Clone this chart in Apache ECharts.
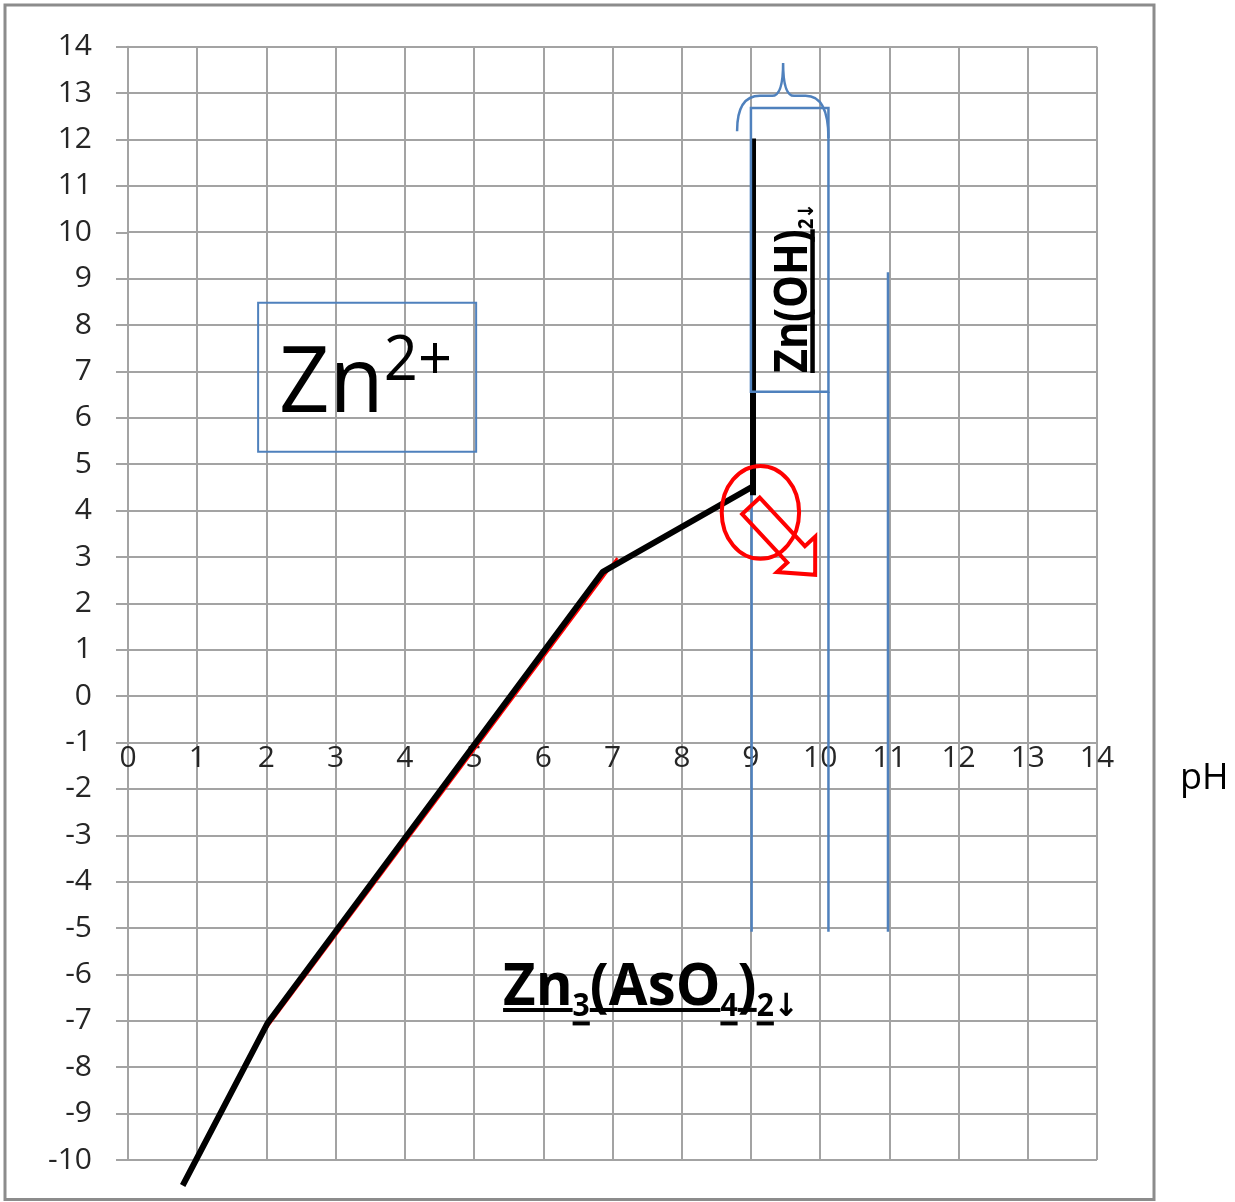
<!DOCTYPE html>
<html>
<head>
<meta charset="utf-8">
<script src="https://cdn.jsdelivr.net/npm/echarts@6/dist/echarts.min.js"></script>
<style>
  html, body { margin: 0; padding: 0; background: #ffffff; }
  #chart { width: 1235px; height: 1202px; }
</style>
</head>
<body>
<div id="chart"></div>
<script>
// ---- Axis ticks -----------------------------------------------------------
const pHTicks = [0, 1, 2, 3, 4, 5, 6, 7, 8, 9, 10, 11, 12, 13, 14];
const yTicks = [-10, -9, -8, -7, -6, -5, -4, -3, -2, -1, 0, 1, 2, 3, 4, 5, 6, 7, 8, 9, 10, 11, 12, 13, 14];
const xAxisLevel = -1;            // the pH axis crosses the vertical scale here
const xAxisTitle = 'pH';

// ---- Zn2+ / Zn3(AsO4)2 precipitation boundary -------------------------------
const boundaryPH = [0.79, 2.02, 6.86, 9.03];
const boundaryY  = [-10.55, -7.04, 2.68, 4.52];

// ---- vertical boundary where Zn(OH)2 starts -------------------------------
const riserPH = [9.03, 9.03];
const riserY  = [4.33, 12.02];

// ---- thin red construction line -------------------------------------------
const constructionPH = [1.91, 7.07];
const constructionY  = [-7.34, 2.98];

// ---- blue vertical guides -------------------------------------------------
const guidePH      = [9.01, 10.12, 10.98];
const guideTopY    = [6.56, 6.56, 9.14];
const guideBottomY = [-5.08, -5.08, -5.08];

// ---- framed regions --------------------------------------------------------
const zn2BoxPH = [1.88, 5.03];
const zn2BoxY  = [5.27, 8.48];
const hydroxideBoxPH = [9.0, 10.12];
const hydroxideBoxY  = [6.56, 12.68];

// ---- curly brace above the Zn(OH)2 frame ----------------------------------
const bracePH    = [8.80, 9.465, 10.12];   // left end, tip, right end
const braceEndY  = [12.18, 12.03];         // left end, right end
const braceBarY  = 12.94;
const bracePeakY = 13.65;

// ---- red marker around the junction ----------------------------------------
const markerCenter = [9.137, 3.961];
const markerRadius = [0.559, 1.002];
const arrowPH = [9.127, 9.780, 9.929, 9.928, 9.377, 9.526, 8.873];
const arrowY  = [4.278, 3.233, 3.438, 2.614, 2.675, 2.879, 3.925];

// ---- species labels (anchor = start of the baseline) -----------------------
const zn2Anchor = [2.182, 6.132];
const arsenateAnchor = [5.419, -6.657];
const hydroxideAnchor = [9.808, 6.964];

const zn2Segments = [
  { t: 'Zn', s: 1, r: 0 },
  { t: '2+', s: 0.675, r: 0.475 }
];
const arsenateSegments = [
  { t: 'Zn',   s: 1,     r: 0,      u: 0.116 },
  { t: '3',    s: 0.535, r: -0.256, u: 0.174 },
  { t: '(AsO', s: 1,     r: 0,      u: 0.116 },
  { t: '4',    s: 0.535, r: -0.256, u: 0.174 },
  { t: ')',    s: 1,     r: 0,      u: 0.116 },
  { t: '2',    s: 0.535, r: -0.256, u: 0.174 },
  { t: '\u2193', s: 0.535, r: -0.256 }
];
const hydroxideSegments = [
  { t: 'Zn(OH)', s: 1,    r: 0,     u: 0.17 },
  { t: '2',      s: 0.45, r: -0.19 },
  { t: '\u2193', s: 0.45, r: -0.19 }
];

// ---------------------------------------------------------------------------
const zip = (xs, ys) => xs.map((x, i) => [x, ys[i]]);
const FONT = '"Open Sans", "DejaVu Sans", sans-serif';
const GRID_COLOR = '#a3a3a3';
const BLUE = '#4f81bd';
const RED = '#ff0000';

const W = 1235, H = 1202;
const GRID = { left: 128, right: 138, top: 46.7, bottom: 42 };
const yMin = yTicks[0], yMax = yTicks[yTicks.length - 1];
const unitY = (H - GRID.top - GRID.bottom) / (yMax - yMin);
const xAxisPixelY = GRID.top + (yMax - xAxisLevel) * unitY;

// text measuring, so that sub/superscripts and underlines line up
const mctx = document.createElement('canvas').getContext('2d');
function metrics(weight, size, text) {
  mctx.font = weight + ' ' + size + 'px ' + FONT;
  mctx.textBaseline = 'alphabetic';
  const w = mctx.measureText(text).width;
  const cap = mctx.measureText('H').actualBoundingBoxAscent;
  mctx.textBaseline = 'middle';
  const capMid = mctx.measureText('H').actualBoundingBoxAscent;
  mctx.textBaseline = 'alphabetic';
  return { w: w, cap: cap, shift: cap - capMid };
}
function buildFormula(segments, capPx, weight, ulWidth) {
  const F = capPx / (metrics(weight, 100, 'H').cap / 100);
  let x = 0;
  const children = [];
  segments.forEach(seg => {
    const size = F * seg.s;
    const m = metrics(weight, size, seg.t);
    const base = -seg.r * capPx;
    children.push({
      type: 'text', x: x, y: base - m.shift,
      style: { text: seg.t, fontSize: size, fontWeight: weight, fontFamily: FONT,
               fill: '#000000', align: 'left', verticalAlign: 'middle' }
    });
    if (seg.u != null) {
      const uy = base + seg.u * capPx;
      children.push({
        type: 'line', shape: { x1: x, y1: uy, x2: x + m.w, y2: uy },
        style: { stroke: '#000000', lineWidth: ulWidth }
      });
    }
    x += m.w;
  });
  return { children: children, width: x };
}
function formulaGroup(api, anchor, segments, capPx, lengthPx, weight, ulWidth, rotation) {
  const p = api.coord(anchor);
  const f = buildFormula(segments, capPx, weight, ulWidth);
  return {
    type: 'group', x: p[0], y: p[1], rotation: rotation || 0,
    scaleX: lengthPx / f.width, scaleY: 1, children: f.children
  };
}

function renderGuides(params, api) {
  const kids = guidePH.map((x, i) => {
    const a = api.coord([x, guideTopY[i]]);
    const b = api.coord([x, guideBottomY[i]]);
    return { type: 'line', shape: { x1: a[0], y1: a[1], x2: b[0], y2: b[1] },
             style: { stroke: BLUE, lineWidth: 2.5 } };
  });
  return { type: 'group', children: kids };
}

function renderAnnotations(params, api) {
  const c = (x, y) => api.coord([x, y]);
  const kids = [];

  // Zn2+ frame
  let a = c(zn2BoxPH[0], zn2BoxY[1]), b = c(zn2BoxPH[1], zn2BoxY[0]);
  kids.push({ type: 'rect', shape: { x: a[0], y: a[1], width: b[0] - a[0], height: b[1] - a[1] },
              style: { fill: 'none', stroke: BLUE, lineWidth: 2 } });

  // Zn(OH)2 frame
  a = c(hydroxideBoxPH[0], hydroxideBoxY[1]); b = c(hydroxideBoxPH[1], hydroxideBoxY[0]);
  kids.push({ type: 'rect', shape: { x: a[0], y: a[1], width: b[0] - a[0], height: b[1] - a[1] },
              style: { fill: 'none', stroke: BLUE, lineWidth: 2.5 } });

  // curly brace
  const L = c(bracePH[0], braceEndY[0]), R = c(bracePH[2], braceEndY[1]);
  const M = c(bracePH[1], bracePeakY);
  const barY = c(bracePH[1], braceBarY)[1];
  const half = (R[0] - L[0]) / 2, r = half * 0.5, s = half * 0.24;
  const d = 'M' + L[0] + ',' + L[1] +
    ' Q' + L[0] + ',' + barY + ' ' + (L[0] + r) + ',' + barY +
    ' L' + (M[0] - s) + ',' + barY +
    ' Q' + M[0] + ',' + barY + ' ' + M[0] + ',' + M[1] +
    ' Q' + M[0] + ',' + barY + ' ' + (M[0] + s) + ',' + barY +
    ' L' + (R[0] - r) + ',' + barY +
    ' Q' + R[0] + ',' + barY + ' ' + R[0] + ',' + R[1];
  kids.push({ type: 'path', shape: { pathData: d },
              style: { fill: 'none', stroke: BLUE, lineWidth: 2.5 } });

  // red ellipse and hollow arrow
  const mc = c(markerCenter[0], markerCenter[1]);
  const ms = api.size(markerRadius);
  kids.push({ type: 'ellipse', shape: { cx: mc[0], cy: mc[1], rx: ms[0], ry: ms[1] },
              style: { fill: 'none', stroke: RED, lineWidth: 4 } });
  kids.push({ type: 'polygon', shape: { points: arrowPH.map((x, i) => c(x, arrowY[i])) },
              style: { fill: 'none', stroke: RED, lineWidth: 4, lineJoin: 'miter' } });

  // species labels
  kids.push(formulaGroup(api, zn2Anchor, zn2Segments, 66.7, 173, 'normal', 0, 0));
  kids.push(formulaGroup(api, arsenateAnchor, arsenateSegments, 43, 296, 'bold', 4, 0));
  kids.push(formulaGroup(api, hydroxideAnchor, hydroxideSegments, 33.5, 170, 'bold', 4.5, Math.PI / 2));

  return { type: 'group', children: kids };
}

const chart = echarts.init(document.getElementById('chart'), null, { renderer: 'canvas', width: W, height: H });

const axisText = { fontSize: 30, color: '#262626', fontFamily: FONT };

chart.setOption({
  animation: false,
  textStyle: { fontFamily: FONT },
  graphic: [
    {
      type: 'rect', z: -10, silent: true,
      shape: { x: 5, y: 5, width: 1149, height: 1194.5 },
      style: { fill: 'none', stroke: '#8c8c8c', lineWidth: 3 }
    },
    {
      // axis title, set below and to the right of the pH axis end
      type: 'text', silent: true, x: W - GRID.right + 83, y: xAxisPixelY + 36,
      style: { text: xAxisTitle, fontSize: 36, fontFamily: FONT, fill: '#000000',
               align: 'left', verticalAlign: 'middle' }
    }
  ],
  grid: { left: GRID.left, right: GRID.right, top: GRID.top, bottom: GRID.bottom, containLabel: false },
  xAxis: {
    type: 'value',
    min: pHTicks[0], max: pHTicks[pHTicks.length - 1], interval: 1,
    offset: -(xAxisLevel - yMin) * unitY,
    axisLine: { show: true, onZero: false, lineStyle: { color: GRID_COLOR, width: 2 } },
    axisTick: { show: false },
    axisLabel: Object.assign({ margin: 1, showMinLabel: true, showMaxLabel: true }, axisText),
    splitLine: { show: true, lineStyle: { color: GRID_COLOR, width: 2 } }
  },
  yAxis: {
    type: 'value',
    min: yMin, max: yMax, interval: 1,
    axisLine: { show: true, onZero: false, lineStyle: { color: GRID_COLOR, width: 2 } },
    axisTick: { show: true, length: 12, lineStyle: { color: GRID_COLOR, width: 2 } },
    axisLabel: Object.assign({ margin: 36, showMinLabel: true, showMaxLabel: true }, axisText),
    splitLine: { show: true, lineStyle: { color: GRID_COLOR, width: 2 } }
  },
  series: [
    { type: 'custom', name: 'guides', coordinateSystem: 'cartesian2d', z: 2, silent: true,
      data: [[0, 0]], renderItem: renderGuides },
    { type: 'line', name: 'construction', data: zip(constructionPH, constructionY), symbol: 'none',
      clip: false, z: 3, silent: true, lineStyle: { color: RED, width: 2.5 } },
    { type: 'line', name: 'boundary', data: zip(boundaryPH, boundaryY), symbol: 'none',
      clip: false, z: 4, silent: true, lineStyle: { color: '#000000', width: 6 } },
    { type: 'line', name: 'riser', data: zip(riserPH, riserY), symbol: 'none',
      clip: false, z: 4, silent: true, lineStyle: { color: '#000000', width: 6 } },
    { type: 'custom', name: 'annotations', coordinateSystem: 'cartesian2d', z: 5, silent: true,
      data: [[0, 0]], renderItem: renderAnnotations }
  ]
});
</script>
</body>
</html>
